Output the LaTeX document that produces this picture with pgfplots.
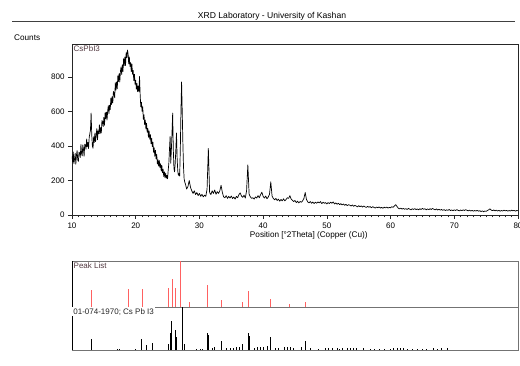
\documentclass[border=0pt]{standalone}
\usepackage{pgfplots}
\pgfplotsset{compat=1.18}
\usepackage{fontspec}
\setmainfont{Liberation Sans}
\definecolor{frame}{rgb}{0.15,0.15,0.15}
\definecolor{lbl}{rgb}{0.32,0.22,0.25}
\definecolor{pkred}{rgb}{1.0,0.38,0.38}
\begin{document}
\begin{tikzpicture}
\useasboundingbox (0,0) rectangle (520pt,-365pt);
% header
\draw[black!75, line width=0.6pt] (12pt,-21pt) -- (515pt,-21pt);
\node[font=\fontsize{8.6}{10}\selectfont, anchor=base] at (272pt,-18pt) {XRD Laboratory - University of Kashan};
\node[font=\fontsize{8.2}{10}\selectfont, anchor=base west, inner sep=0pt] at (14pt,-40pt) {Counts};
% main axis
\begin{axis}[
  at={(72pt,-44pt)}, anchor=north west,
  scale only axis, width=446pt, height=171pt,
  xmin=10, xmax=80, ymin=0, ymax=990,
  xtick={10,20,...,80}, ytick={0,200,...,800},
  minor x tick num=9,
  tick pos=left, tick align=outside,
  major tick length=4pt, minor tick length=2.5pt,
  every tick/.style={frame, line width=0.5pt},
  axis line style={frame, line width=0.7pt},
  tick label style={font=\fontsize{8}{9}\selectfont},
  /pgf/number format/assume math mode=true,
  xlabel={Position [°2Theta] (Copper (Cu))},
  xlabel style={font=\fontsize{8.2}{9}\selectfont, at={(axis description cs:0.531,-0.095)}, anchor=north, inner sep=0pt},
  clip=true,
]
\addplot[black, line width=0.7pt, mark=none, line join=round] table {
x y
10.0 340
10.1 307
10.2 365
10.3 297
10.4 325
10.5 357
10.6 294
10.7 346
10.8 373
10.9 320
11.0 310
11.1 364
11.2 359
11.3 333
11.4 408
11.5 357
11.6 342
11.7 406
11.8 381
11.9 340
12.0 410
12.1 405
12.2 380
12.3 440
12.4 395
12.5 420
12.6 385
12.7 450
12.8 470
12.9 492
13.0 590
13.1 464
13.2 400
13.3 386
13.4 453
13.5 420
13.6 475
13.7 425
13.8 465
13.9 500
14.0 435
14.1 487
14.2 470
14.3 522
14.4 470
14.5 507
14.6 475
14.7 547
14.8 540
14.9 512
15.0 565
15.1 519
15.2 593
15.3 557
15.4 596
15.5 550
15.6 604
15.7 633
15.8 587
15.9 636
16.0 610
16.1 677
16.2 639
16.3 686
16.4 648
16.5 715
16.6 707
16.7 679
16.8 766
16.9 723
17.0 770
17.1 731
17.2 807
17.3 773
17.4 819
17.5 770
17.6 831
17.7 857
17.8 813
17.9 869
18.0 830
18.1 905
18.2 865
18.3 915
18.4 865
18.5 940
18.6 910
18.7 955
18.8 935
18.9 875
19.0 915
19.1 860
19.2 882
19.3 830
19.4 875
19.5 815
19.6 837
19.7 778
19.8 815
19.9 757
20.0 780
20.1 728
20.2 761
20.3 714
20.4 747
20.5 715
20.6 802
20.7 694
20.8 626
20.9 653
21.0 600
21.1 627
21.2 554
21.3 581
21.4 523
21.5 550
21.6 498
21.7 531
21.8 479
21.9 502
22.0 450
22.1 487
22.2 439
22.3 466
22.4 413
22.5 445
22.6 396
22.7 422
22.8 363
22.9 389
23.0 340
23.1 375
23.2 325
23.3 350
23.4 295
23.5 320
23.6 283
23.7 316
23.8 274
23.9 297
24.0 255
24.1 287
24.2 244
24.3 266
24.4 223
24.5 250
24.6 216
24.7 242
24.8 213
24.9 229
25.0 210
25.1 260
25.2 300
25.3 380
25.4 455
25.5 300
25.6 380
25.7 480
25.8 590
25.9 380
26.0 270
26.1 250
26.2 300
26.3 380
26.4 475
26.5 330
26.6 255
26.7 230
26.8 240
26.9 225
27.0 380
27.1 600
27.2 770
27.3 600
27.4 420
27.5 280
27.6 210
27.7 190
27.8 180
28.0 150
28.2 165
28.4 200
28.6 160
28.8 140
29.0 125
29.2 140
29.4 118
29.6 130
29.8 112
30.0 125
30.2 108
30.4 120
30.6 105
30.8 115
31.0 108
31.2 150
31.4 385
31.6 130
31.8 118
32.0 140
32.2 125
32.4 145
32.6 120
32.8 135
33.0 125
33.2 140
33.4 172
33.6 130
33.8 105
34.0 100
34.2 112
34.4 96
34.6 108
34.8 98
35.0 110
35.2 95
35.4 104
35.6 92
35.8 108
36.0 100
36.2 118
36.4 128
36.6 110
36.8 102
37.0 115
37.2 98
37.4 140
37.6 290
37.8 120
38.0 105
38.2 96
38.4 100
38.6 92
38.8 105
39.0 98
39.2 112
39.4 100
39.6 118
39.8 132
40.0 108
40.2 98
40.4 110
40.6 94
40.8 104
41.0 120
41.2 192
41.4 110
41.6 95
41.8 88
42.0 96
42.2 84
42.4 92
42.6 80
42.8 90
43.0 82
43.2 94
43.4 82
43.6 90
43.8 100
44.0 96
44.2 112
44.4 92
44.6 85
44.8 78
45.0 84
45.2 72
45.4 80
45.6 70
45.8 78
46.0 74
46.2 82
46.4 96
46.6 130
46.8 90
47.0 76
47.2 70
47.4 78
47.6 68
47.8 75
48.0 66
48.2 74
48.4 68
48.6 76
48.8 70
49.0 78
49.2 66
49.4 74
49.6 68
49.8 72
50.0 64
50.2 72
50.4 66
50.6 74
50.8 68
51.0 76
51.2 64
51.4 70
51.6 62
51.8 68
52.0 60
52.2 66
52.4 58
52.6 64
52.8 56
53.0 62
53.2 54
53.4 60
53.6 57
53.8 52
54.0 58
54.2 50
54.4 56
54.6 52
54.8 47
55.0 54
55.2 48
55.4 53
55.6 46
55.8 52
56.0 47
56.2 44
56.4 50
56.6 45
56.8 49
57.0 42
57.2 48
57.4 44
57.6 40
57.8 46
58.0 42
58.2 47
58.4 40
58.6 44
58.8 39
59.0 45
59.2 41
59.4 46
59.6 40
59.8 44
60.0 42
60.2 48
60.4 44
60.6 52
60.8 60
61.0 50
61.2 40
61.4 35
61.6 40
61.8 34
62.0 38
62.2 33
62.4 37
62.6 32
62.8 38
63.0 34
63.2 30
63.4 36
63.6 32
63.8 37
64.0 31
64.2 35
64.4 30
64.6 36
64.8 32
65.0 38
65.2 33
65.4 36
65.6 30
65.8 35
66.0 31
66.2 36
66.4 32
66.6 38
66.8 33
67.0 30
67.2 35
67.4 29
67.6 33
67.8 28
68.0 32
68.2 27
68.4 31
68.6 26
68.8 30
69.0 27
69.2 32
69.4 26
69.6 29
69.8 25
70.0 30
70.2 26
70.4 31
70.6 27
70.8 24
71.0 29
71.2 25
71.4 30
71.6 26
71.8 31
72.0 27
72.2 24
72.4 28
72.6 23
72.8 27
73.0 22
73.2 26
73.4 23
73.6 27
73.8 22
74.0 25
74.2 20
74.4 24
74.6 19
74.8 23
75.0 21
75.2 26
75.4 30
75.6 36
75.8 28
76.0 25
76.2 29
76.4 24
76.6 28
76.8 23
77.0 27
77.2 22
77.4 26
77.6 23
77.8 28
78.0 24
78.2 27
78.4 22
78.6 26
78.8 23
79.0 28
79.2 24
79.4 27
79.6 22
79.8 26
80.0 25
};
\node[anchor=north west, font=\fontsize{8}{9}\selectfont, text=lbl, inner sep=1.5pt] at (rel axis cs:0,1) {CsPbI3};
\end{axis}
% peak list panel
\begin{axis}[
  at={(72pt,-261pt)}, anchor=north west,
  scale only axis, width=446pt, height=46pt,
  xmin=10, xmax=80, ymin=0, ymax=100,
  xtick=\empty, ytick=\empty,
  axis line style={black!55, line width=0.9pt},
  clip=false,
]
\addplot[ycomb, pkred, line width=1pt, mark=none] coordinates {
(13.0,36) (18.9,39) (21.0,39) (25.2,41) (25.7,61) (26.3,41) (27.1,100) (28.5,11)
(31.3,48) (33.4,15) (36.7,10) (37.7,35) (41.2,18) (44.2,6) (46.6,10)
};
\draw[black, line width=0.7pt] (rel axis cs:0,0) -- (rel axis cs:0,1);
\node[anchor=north west, font=\fontsize{8}{9}\selectfont, text=lbl, inner sep=1.5pt] at (rel axis cs:0,1) {Peak List};
\end{axis}
% reference pattern panel
\begin{axis}[
  at={(72pt,-307pt)}, anchor=north west,
  scale only axis, width=446pt, height=43pt,
  xmin=10, xmax=80, ymin=0, ymax=100,
  xtick=\empty, ytick=\empty,
  axis line style={black!55, line width=0.9pt},
  clip=false,
]
\addplot[ycomb, black, line width=0.8pt, mark=none] coordinates {
(13.0,26) (17.1,2) (17.4,2) (19.9,2) (20.9,26) (21.6,12) (22.6,17)
(25.1,14) (25.4,40) (25.65,67) (26.3,47) (26.45,30) (27.35,100) (27.65,15)
(29.5,3) (30.2,3) (30.5,2) (31.3,40) (31.45,36) (32.1,5) (32.4,6) (33.4,20)
(34.2,4) (34.8,4) (35.3,5) (35.8,6) (36.2,8) (36.7,15) (37.7,40) (37.85,33)
(38.6,5) (39.1,6) (39.6,7) (40.0,8) (40.6,10) (41.2,30) (41.9,5) (42.4,5)
(43.3,6) (43.8,6) (44.2,6) (44.7,5) (46.05,8) (46.6,20) (47.4,5) (48.6,3)
(49.7,4) (50.2,4) (50.8,4) (51.6,4) (52.0,3) (52.4,4) (53.2,5) (53.7,5)
(54.2,4) (54.7,5) (55.7,4) (56.8,3) (57.5,3) (58.3,3) (59.1,3) (59.9,3)
(60.4,4) (61.0,4) (61.5,4) (62.0,4) (62.6,2) (63.4,2) (64.2,2) (65.0,2)
(65.7,2) (66.7,4) (67.3,3) (68.0,4) (68.9,4)
};
\draw[black, line width=0.7pt] (rel axis cs:0,0) -- (rel axis cs:0,1);
\node[anchor=north west, font=\fontsize{8}{9}\selectfont, text=black!85, fill=white, inner sep=1.2pt] at (rel axis cs:0,1) {01-074-1970; Cs Pb I3};
\end{axis}
\end{tikzpicture}
\end{document}
